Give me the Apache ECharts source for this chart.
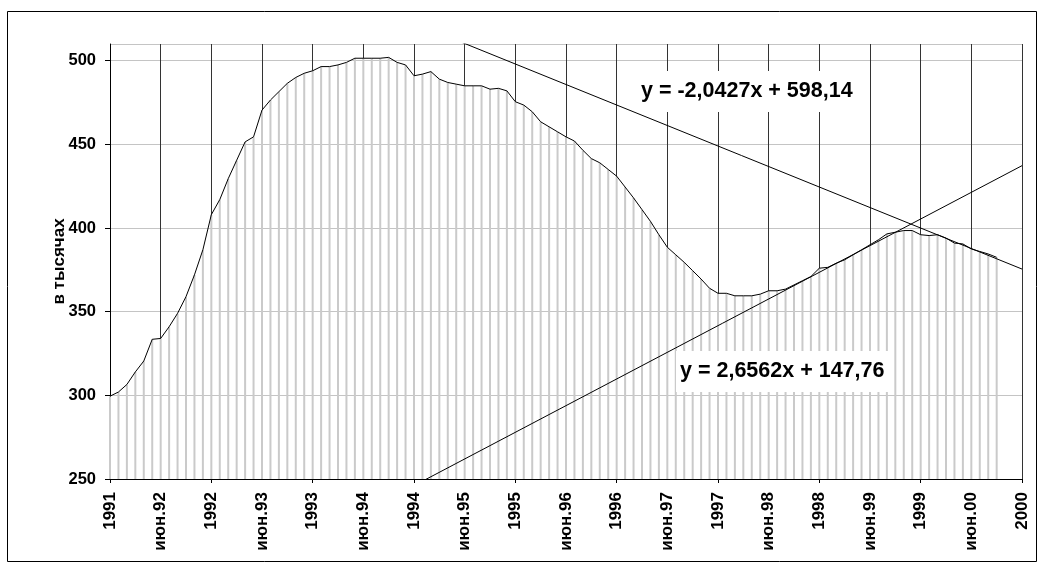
<!DOCTYPE html>
<html>
<head>
<meta charset="utf-8">
<script src="https://cdn.jsdelivr.net/npm/echarts@6/dist/echarts.min.js"></script>
<style>
html,body{margin:0;padding:0;background:#fff;}
#chart{width:1043px;height:568px;}
</style>
</head>
<body>
<div id="chart"></div>
<script>
// Tick labels shown every 6th month on the x axis
const tickLabels = ['1991','июн.92','1992','июн.93','1993','июн.94','1994','июн.95','1995',
  'июн.96','1996','июн.97','1997','июн.98','1998','июн.99','1999','июн.00','2000'];
// Monthly values, in thousands
const values = [
  299.5, 302, 306.5, 314, 320.5, 333.5, 334, 341, 349, 359,
  372, 387, 408, 417, 429.5, 440.5, 451.5, 454.5, 470.5, 476.5,
  481.5, 486.5, 490, 492.5, 494, 496.5, 496.5, 497.5, 499, 501.5,
  501.5, 501.5, 501.5, 502, 499, 497.5, 491, 492, 493.5, 489,
  487, 486, 485, 485, 485, 483, 483.5, 482, 475.5, 473.5,
  469.5, 463.5, 460.5, 457.5, 454.5, 452, 446.5, 441.5, 439, 435,
  431, 424.5, 418, 411, 404, 396, 388.5, 384, 379.5, 374.5,
  369.5, 364, 361, 361, 359.5, 359.5, 359.5, 360.5, 362.5, 362.5,
  363.5, 366, 368.5, 371, 376, 376.5, 379, 381, 384, 387,
  390, 393, 396.5, 397.5, 398.5, 398.5, 396, 395.5, 396, 394,
  391, 390.5, 387.5, 386, 384.5, 382.5
];
// Trend lines: [slope, intercept] (x = 1-based month number)
const trendDown = [-2.0427, 598.14];
const trendUp = [2.6562, 147.76];
const trendDownLabel = 'y = -2,0427x + 598,14';
const trendUpLabel = 'y = 2,6562x + 147,76';
const yTicks = [250, 510, 50]; // min, max, interval

const step = 6;
const nCats = (tickLabels.length - 1) * step + 1;
const categories = [];
for (let i = 0; i < nCats; i++) {
  categories.push(i % step === 0 ? tickLabels[i / step] : 'm' + i);
}
function trendData(t) {
  const last = nCats - 1;
  return [[0, t[1] + t[0] * 1], [last, t[1] + t[0] * (last + 1)]];
}

const FONT = '"Liberation Sans", Arial, sans-serif';
const chart = echarts.init(document.getElementById('chart'), null, {renderer: 'canvas'});
chart.setOption({
  animation: false,
  backgroundColor: '#fff',
  grid: {left: 110, right: 21, top: 44, bottom: 89, containLabel: false},
  title: [
    {
      text: trendDownLabel, left: 636, top: 71,
      backgroundColor: '#fff', padding: [9, 5, 9, 5],
      textStyle: {fontFamily: FONT, fontWeight: 'bold', fontSize: 21.5, color: '#000', lineHeight: 23}
    },
    {
      text: trendUpLabel, left: 676, top: 351,
      backgroundColor: '#fff', padding: [9, 5, 9, 4],
      textStyle: {fontFamily: FONT, fontWeight: 'bold', fontSize: 21.5, color: '#000', lineHeight: 23}
    }
  ],
  graphic: [{
    type: 'rect', silent: true, z: -1,
    shape: {x: 7.5, y: 11.5, width: 1029, height: 550},
    style: {fill: null, stroke: '#000', lineWidth: 1}
  }],
  xAxis: {
    type: 'category',
    data: categories,
    boundaryGap: false,
    axisLine: {lineStyle: {color: '#000', width: 1}},
    axisTick: {show: true, interval: 11, length: 4, lineStyle: {color: '#000'}},
    axisLabel: {
      interval: step - 1, rotate: 90, margin: 13,
      fontFamily: FONT, fontWeight: 'bold', fontSize: 17, color: '#000'
    },
    splitLine: {show: true, interval: step - 1, lineStyle: {color: '#333', width: 1}}
  },
  yAxis: {
    type: 'value',
    min: yTicks[0], max: yTicks[1], interval: yTicks[2],
    name: 'в тысячах',
    nameLocation: 'middle',
    nameRotate: 90,
    nameGap: 42,
    nameMoveOverlap: false,
    nameTextStyle: {fontFamily: FONT, fontWeight: 'bold', fontSize: 17, color: '#000'},
    axisLine: {show: true, lineStyle: {color: '#000', width: 1}},
    axisTick: {show: true, length: 5, lineStyle: {color: '#000'}},
    axisLabel: {
      showMaxLabel: false, margin: 14,
      fontFamily: FONT, fontWeight: 'bold', fontSize: 16.5, color: '#000'
    },
    splitLine: {show: true, lineStyle: {color: '#c4c4c4', width: 1}}
  },
  series: [
    {
      type: 'bar', data: values, barWidth: 2, clip: true, silent: true, z: 1,
      itemStyle: {color: '#cacaca'}
    },
    {
      type: 'line', data: values, showSymbol: false, symbol: 'none', silent: true, z: 3,
      lineStyle: {color: '#000', width: 1}
    },
    {
      type: 'line', data: trendData(trendDown), showSymbol: false, symbol: 'none', silent: true, clip: true, z: 4,
      lineStyle: {color: '#000', width: 1}
    },
    {
      type: 'line', data: trendData(trendUp), showSymbol: false, symbol: 'none', silent: true, clip: true, z: 4,
      lineStyle: {color: '#000', width: 1}
    }
  ]
});
</script>
</body>
</html>
